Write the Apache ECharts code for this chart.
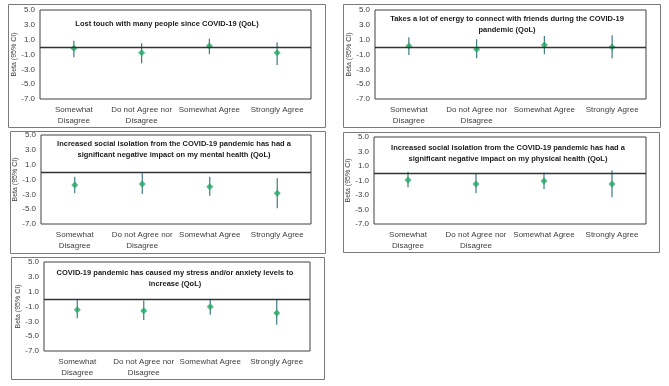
<!DOCTYPE html>
<html>
<head>
<meta charset="utf-8">
<script src="https://cdn.jsdelivr.net/npm/echarts@6/dist/echarts.min.js"></script>
<style>
  html, body { margin: 0; padding: 0; background: #fff; }
  #chart { width: 669px; height: 386px; }
</style>
</head>
<body>
<div id="chart"></div>
<script>
// categories shared by every panel
const categories = ['Somewhat\nDisagree', 'Do not Agree nor\nDisagree', 'Somewhat Agree', 'Strongly Agree']
const yTicks = [-7, -5, -3, -1, 1, 3, 5]

const titles = [
  'Lost touch with many people since COVID-19 (QoL)',
  'Takes a lot of energy to connect with friends during the COVID-19\npandemic (QoL)',
  'Increased social isolation from the COVID-19 pandemic has had a\nsignificant negative impact on my mental health (QoL)',
  'Increased social isolation from the COVID-19 pandemic has had a\nsignificant negative impact on my physical health (QoL)',
  'COVID-19 pandemic has caused my stress and/or anxiety levels to\nincrease (QoL)'
]

// beta estimates and 95% CI
const beta1 = [-0.17, -0.75, 0.15, -0.75]
const low1 = [-1.38, -2.19, -0.98, -2.42]
const high1 = [0.87, 0.51, 1.13, 0.64]

const beta2 = [0.15, -0.30, 0.28, 0.0]
const low2 = [-1.07, -1.52, -0.98, -1.52]
const high2 = [1.31, 1.04, 1.49, 1.58]

const beta3 = [-1.74, -1.61, -1.97, -2.87]
const low3 = [-2.87, -2.96, -3.18, -4.89]
const high3 = [-0.62, -0.17, -0.62, -0.84]

const beta4 = [-0.94, -1.48, -1.07, -1.48]
const low4 = [-1.94, -2.76, -2.17, -3.31]
const high4 = [0.21, -0.05, 0.11, 0.43]

const beta5 = [-1.43, -1.56, -1.02, -1.88]
const low5 = [-2.60, -2.83, -2.10, -3.46]
const high5 = [-0.11, -0.2, 0.02, -0.11]

const betas = [beta1, beta2, beta3, beta4, beta5]
const lows = [low1, low2, low3, low4, low5]
const highs = [high1, high2, high3, high4, high5]

// layout of each panel (plot box + outer frame)
const grids = [
  { left: 40, top: 10, width: 271, height: 89 },
  { left: 375, top: 10, width: 271, height: 89 },
  { left: 41, top: 135, width: 270, height: 89 },
  { left: 374, top: 137, width: 272, height: 87 },
  { left: 44, top: 262, width: 266, height: 89 }
]
const frames = [
  { x: 8, y: 4, w: 317, h: 123 },
  { x: 343, y: 4, w: 317, h: 123 },
  { x: 10, y: 131, w: 315, h: 122 },
  { x: 343, y: 132, w: 316, h: 120 },
  { x: 11, y: 257, w: 313, h: 122 }
]
const titlePos = [
  { x: 167, y: 18 },
  { x: 507, y: 13 },
  { x: 174, y: 138 },
  { x: 508, y: 142 },
  { x: 175, y: 267 }
]

const chart = echarts.init(document.getElementById('chart'))

const option = {
  backgroundColor: '#fff',
  animation: false,
  title: titles.map((t, i) => ({
    text: t,
    left: titlePos[i].x,
    top: titlePos[i].y,
    textAlign: 'center',
    padding: 0,
    textStyle: {
      fontFamily: "'Liberation Sans', sans-serif",
      fontWeight: 'bold',
      fontSize: 7.5,
      lineHeight: 11,
      color: '#1a1a1a'
    }
  })),
  graphic: frames.map(f => ({
    type: 'rect',
    shape: { x: f.x + 0.5, y: f.y + 0.5, width: f.w, height: f.h },
    style: { fill: 'none', stroke: '#7a7a7a', lineWidth: 1 },
    silent: true
  })),
  grid: grids.map(g => ({
    left: g.left, top: g.top, width: g.width, height: g.height,
    show: true, borderColor: '#404040', borderWidth: 1, backgroundColor: '#fff'
  })),
  xAxis: grids.map((g, i) => ({
    type: 'category',
    gridIndex: i,
    data: categories,
    axisLine: { show: false },
    axisTick: { show: false },
    axisLabel: {
      interval: 0,
      margin: 5,
      fontSize: 8,
      lineHeight: 11,
      color: '#404040',
      fontFamily: "'Liberation Sans', sans-serif"
    }
  })),
  yAxis: grids.map((g, i) => ({
    type: 'value',
    gridIndex: i,
    min: -7,
    max: 5,
    interval: 2,
    name: 'Beta (95% CI)',
    nameLocation: 'middle',
    nameGap: 22,
    nameTextStyle: { fontSize: 7, color: '#404040', fontFamily: "'Liberation Sans', sans-serif" },
    axisLine: { show: false },
    axisTick: { show: false },
    splitLine: { show: false },
    axisLabel: {
      fontSize: 8,
      color: '#404040',
      margin: 5,
      fontFamily: "'Liberation Sans', sans-serif",
      formatter: v => yTicks.includes(v) ? v.toFixed(1) : ''
    }
  })),
  series: []
}

betas.forEach((b, i) => {
  // zero reference line
  option.series.push({
    type: 'line',
    xAxisIndex: i,
    yAxisIndex: i,
    data: [],
    markLine: {
      silent: true,
      symbol: 'none',
      label: { show: false },
      lineStyle: { color: '#333', width: 1.3, type: 'solid' },
      data: [{ yAxis: 0 }]
    }
  })
  // error bars
  option.series.push({
    type: 'custom',
    xAxisIndex: i,
    yAxisIndex: i,
    data: categories.map((c, k) => [k, lows[i][k], highs[i][k]]),
    renderItem: (params, api) => {
      const p1 = api.coord([api.value(0), api.value(1)])
      const p2 = api.coord([api.value(0), api.value(2)])
      return {
        type: 'line',
        shape: { x1: p1[0], y1: p1[1], x2: p2[0], y2: p2[1] },
        style: { stroke: '#3f7a88', lineWidth: 1.2 }
      }
    },
    z: 3
  })
  // point estimates
  option.series.push({
    type: 'scatter',
    xAxisIndex: i,
    yAxisIndex: i,
    data: b.map((v, k) => [k, v]),
    symbol: 'diamond',
    symbolSize: 7,
    itemStyle: { color: '#22a862' },
    z: 4
  })
})

chart.setOption(option)
</script>
</body>
</html>
